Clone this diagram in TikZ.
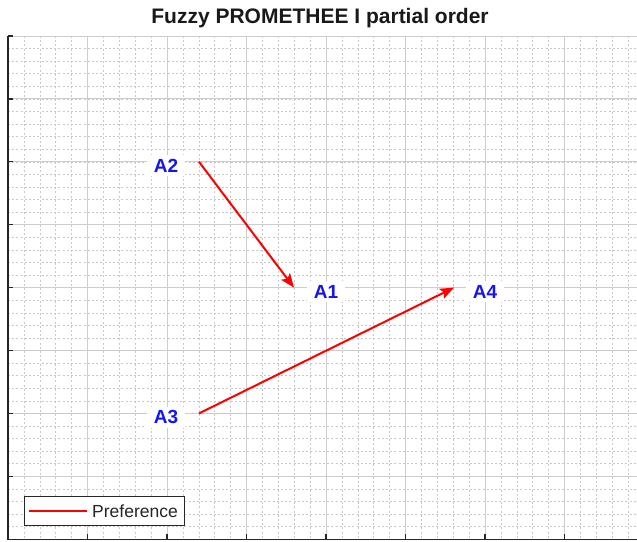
\documentclass[tikz,border=0pt]{standalone}
\usepackage{fontspec}
\setmainfont{Liberation Sans}
\usetikzlibrary{arrows.meta,calc}
\definecolor{majgrid}{RGB}{205,205,205}
\definecolor{mingrid}{RGB}{200,200,200}
\definecolor{lblblue}{RGB}{20,20,245}
\tikzset{
  majorline/.style={draw=majgrid, line width=0.9pt},
  minorline/.style={draw=mingrid, line width=0.5pt, dash pattern=on 2pt off 2.2pt},
  axisline/.style={draw=black!85, line width=1.3pt},
  lbl/.style={fill=white, text=lblblue, font=\fontsize{19}{20}\selectfont\bfseries, inner xsep=7pt, inner ysep=4pt},
  pref/.style={draw=red, line width=2pt, -{Stealth[length=14pt,width=11pt,inset=3pt]}},
}
\begin{document}
\begin{tikzpicture}[x=1pt,y=-1pt]
\useasboundingbox (0,0) rectangle (637,541);
\fill[white] (0,0) rectangle (637,541);
% grid
\begin{scope}
\clip (8,36) rectangle (637,539.2);
\foreach \i in {0,...,40} {
  \draw[minorline] ({8+\i*15.9},36) -- ({8+\i*15.9},539.2);
}
\foreach \j in {0,...,40} {
  \draw[minorline] (8,{36+\j*12.58}) -- (637,{36+\j*12.58});
}
\foreach \i in {0,...,8} {
  \draw[majorline] ({8+\i*79.5},36) -- ({8+\i*79.5},539.2);
  \draw[majorline] (8,{36+\i*62.9}) -- (637,{36+\i*62.9});
}
\end{scope}
% axes
\draw[axisline] (8,36) -- (8,539.2) -- (637,539.2);
\foreach \j in {0,...,8} {
  \draw[axisline] (8,{36+\j*62.9}) -- (13,{36+\j*62.9});
}
\foreach \i in {0,...,8} {
  \draw[axisline] ({8+\i*79.5},539.2) -- ({8+\i*79.5},534);
}
% title
\node[font=\fontsize{21}{23}\selectfont\bfseries, text=black!90] (title) at (320,18) {Fuzzy PROMETHEE I partial order};
% nodes
\node[lbl] (A2) at (166,165.8) {A2};
\node[lbl] (A1) at (326,291.6) {A1};
\node[lbl] (A4) at (485,291.6) {A4};
\node[lbl] (A3) at (166,417.4) {A3};
% connectors
\draw[pref] ($(A2.center)+(33,-4)$) -- ($(A1.center)+(-32,-4)$);
\draw[pref] ($(A3.center)+(33,-4)$) -- ($(A4.center)+(-31,-4)$);
% legend
\draw[fill=white, draw=black!85, line width=0.9pt] (24,496) rectangle (184,525);
\draw[draw=red, line width=1.5pt] (29,511) -- (87,511);
\node[anchor=west, inner sep=0pt, font=\fontsize{17.5}{18}\selectfont, text=black!85] (leg) at (92,511) {Preference};
\end{tikzpicture}
\end{document}
